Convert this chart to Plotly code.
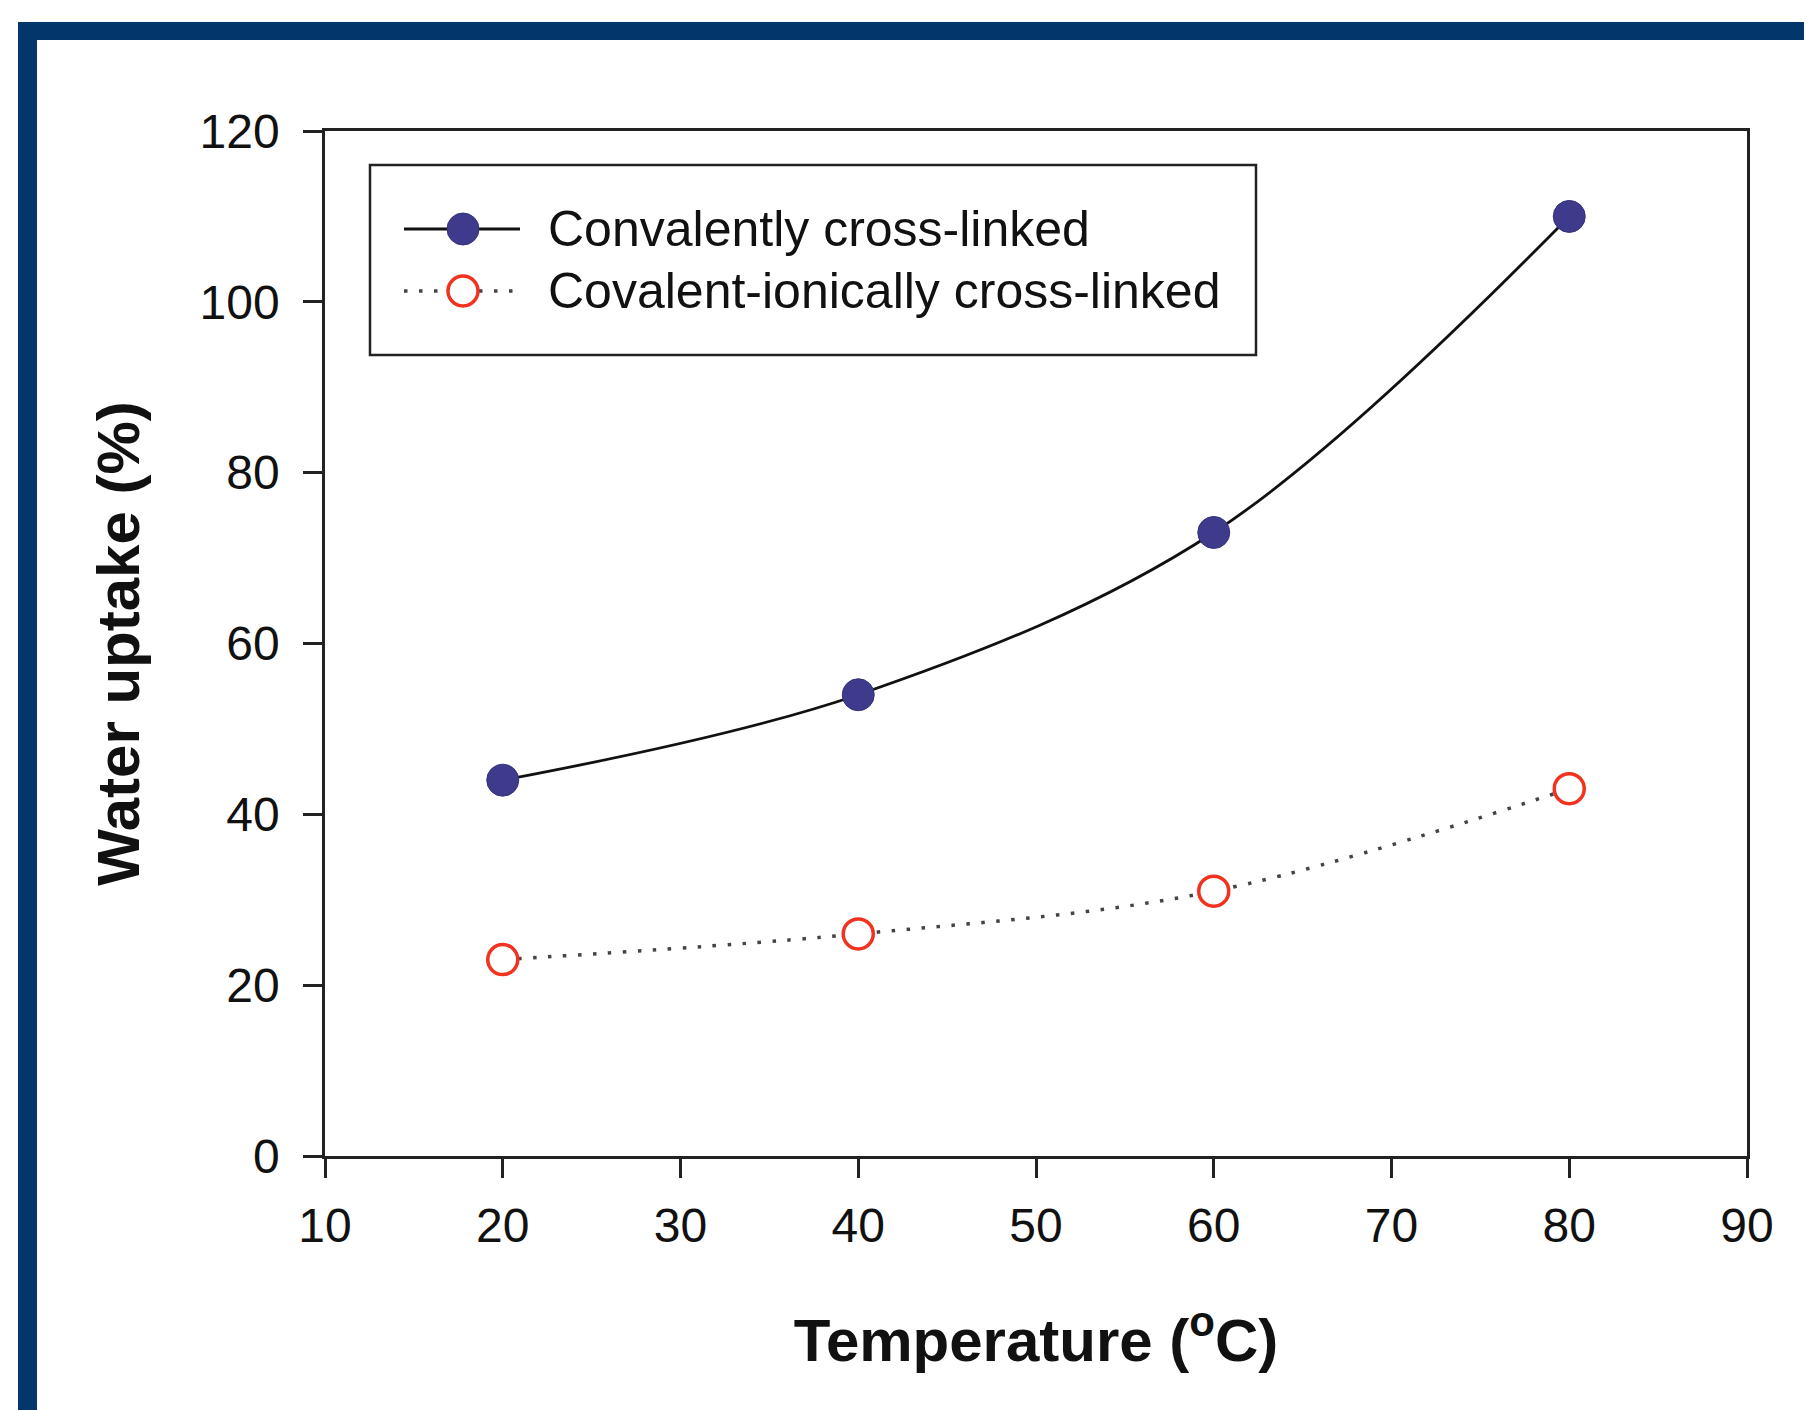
import plotly.graph_objects as go

# ---- data ----
temperature = [20, 40, 60, 80]
covalent = [44, 54, 73, 110]
covalent_ionic = [23, 26, 31, 43]
series_names = ["Convalently cross-linked", "Covalent-ionically cross-linked"]
x_ticks = [10, 20, 30, 40, 50, 60, 70, 80, 90]
y_ticks = [0, 20, 40, 60, 80, 100, 120]

# page body has an 8px margin; figure coordinates = page coordinates - 8
OFF = 8
W, H = 1812 - OFF, 1410 - OFF
L, R, T, B = 325 - OFF, 65, 131 - OFF, 254
pw, ph = W - L - R, H - T - B


def px_x(p):
    """page pixel x -> paper x"""
    return (p - OFF - L) / pw


def px_y(p):
    """page pixel y -> paper y"""
    return (H - B - (p - OFF)) / ph


FONT = "Liberation Sans, Arial, Helvetica, sans-serif"
NAVY = "#3e3a8c"
RED = "#f0321e"
BORDER = "#03366b"

fig = go.Figure()

fig.add_trace(go.Scatter(
    x=temperature, y=covalent, mode="lines+markers", name=series_names[0],
    line=dict(color="#111111", width=2.8, shape="spline"),
    marker=dict(size=32, color=NAVY, line=dict(width=1, color="#35317a")),
    showlegend=False,
))
fig.add_trace(go.Scatter(
    x=temperature, y=covalent_ionic, mode="lines+markers", name=series_names[1],
    line=dict(color="#444444", width=3.5, dash="3.5px,11.5px", shape="spline"),
    marker=dict(size=30, color="white", line=dict(width=3.5, color=RED)),
    showlegend=False,
))

# ---- custom legend (overlay axes in 0..1 units of the plot area) ----
leg_line_x = [px_x(404), px_x(520)]
leg_mark_x = px_x(463)
row_y = [px_y(229), px_y(291)]
fig.add_trace(go.Scatter(
    x=leg_line_x, y=[row_y[0], row_y[0]], xaxis="x2", yaxis="y2", mode="lines",
    line=dict(color="#111111", width=2.8), showlegend=False, hoverinfo="skip"))
fig.add_trace(go.Scatter(
    x=[leg_mark_x], y=[row_y[0]], xaxis="x2", yaxis="y2", mode="markers",
    marker=dict(size=32, color=NAVY, line=dict(width=1, color="#35317a")),
    showlegend=False, hoverinfo="skip"))
fig.add_trace(go.Scatter(
    x=leg_line_x, y=[row_y[1], row_y[1]], xaxis="x2", yaxis="y2", mode="lines",
    line=dict(color="#444444", width=3.5, dash="3.5px,11.5px"), showlegend=False, hoverinfo="skip"))
fig.add_trace(go.Scatter(
    x=[leg_mark_x], y=[row_y[1]], xaxis="x2", yaxis="y2", mode="markers",
    marker=dict(size=30, color="white", line=dict(width=3.5, color=RED)),
    showlegend=False, hoverinfo="skip"))

annotations = []
for name, yy in zip(series_names, row_y):
    annotations.append(dict(
        x=px_x(546), y=yy, xref="paper", yref="paper", text=name, showarrow=False,
        xanchor="left", yanchor="middle", font=dict(family=FONT, size=50, color="#111111")))

shapes = [
    # legend box
    dict(type="rect", xref="paper", yref="paper", x0=px_x(370), x1=px_x(1256),
         y0=px_y(355), y1=px_y(165), line=dict(color="#222222", width=2.5), fillcolor="rgba(0,0,0,0)"),
    # navy frame (top and left bands)
    dict(type="rect", xref="paper", yref="paper", x0=px_x(18), x1=px_x(1812 + 40),
         y0=px_y(40), y1=px_y(22), line=dict(width=0), fillcolor=BORDER, layer="above"),
    dict(type="rect", xref="paper", yref="paper", x0=px_x(18), x1=px_x(37),
         y0=px_y(1410 + 40), y1=px_y(22), line=dict(width=0), fillcolor=BORDER, layer="above"),
]

axis_common = dict(
    showline=True, linecolor="#222222", linewidth=2.5, mirror=True,
    ticks="outside", ticklen=19, tickwidth=2.5, tickcolor="#222222",
    showgrid=False, zeroline=False,
    tickfont=dict(family=FONT, size=48, color="#111111"),
    title_font=dict(family=FONT, size=60, color="#111111"),
)

fig.update_layout(
    width=W, height=H,
    margin=dict(l=L, r=R, t=T, b=B, autoexpand=False),
    paper_bgcolor="white", plot_bgcolor="white",
    xaxis=dict(range=[10, 90], tickvals=x_ticks, ticktext=[str(v) for v in x_ticks],
               title=dict(text="<b>Temperature (<sup>o</sup>C)</b>", standoff=68),
               ticklabelstandoff=7, **axis_common),
    yaxis=dict(range=[0, 120], tickvals=y_ticks, ticktext=[str(v) for v in y_ticks],
               title=dict(text="<b>Water uptake (%)</b>", standoff=41),
               ticklabelstandoff=14, **axis_common),
    xaxis2=dict(range=[0, 1], overlaying="x", visible=False, fixedrange=True),
    yaxis2=dict(range=[0, 1], overlaying="y", visible=False, fixedrange=True),
    annotations=annotations,
    shapes=shapes,
    showlegend=False,
)

fig.write_html("out.html")
